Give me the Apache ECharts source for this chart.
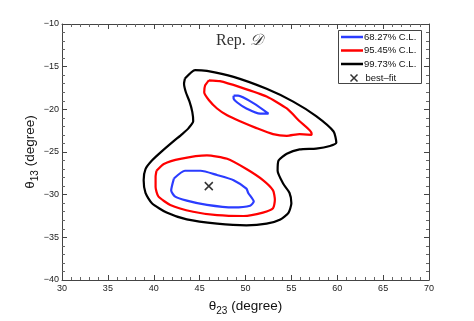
<!DOCTYPE html>
<html>
<head>
<meta charset="utf-8">
<script src="https://cdn.jsdelivr.net/npm/echarts@6/dist/echarts.min.js"></script>
<style>
  html, body { margin: 0; padding: 0; background: #fff; }
  #chart { width: 474px; height: 321px; }
</style>
</head>
<body>
<div id="chart"></div>
<script>
// contour outlines, [theta23, theta13]
const black99 = [[43.4,-16.4],[44.5,-15.4],[45.8,-15.5],[48.7,-16.2],[52.3,-17.6],[55.2,-19.1],[57.7,-20.8],[59.6,-22.6],[59.9,-23.9],[59.2,-24.3],[57.7,-24.6],[55.9,-24.7],[54.5,-25.2],[53.6,-26.0],[53.5,-27.2],[54.1,-28.7],[54.8,-29.8],[55.0,-31.0],[54.7,-32.1],[53.8,-32.9],[52.3,-33.4],[50.1,-33.6],[46.9,-33.4],[43.6,-32.9],[41.4,-32.1],[39.8,-31.0],[39.1,-29.8],[38.9,-28.3],[39.1,-27.0],[39.8,-26.0],[40.9,-24.9],[42.2,-23.7],[43.1,-22.9],[43.8,-22.2],[44.3,-21.4],[44.2,-20.3],[43.9,-19.1],[43.5,-18.0],[43.3,-17.0]]
const red95top = [[46.0,-16.6],[47.2,-16.7],[49.4,-17.4],[52.3,-18.5],[54.5,-19.9],[55.9,-21.4],[57.2,-22.8],[57.2,-23.0],[55.9,-22.9],[54.5,-23.1],[53.0,-22.9],[51.2,-22.2],[49.4,-21.4],[48.0,-20.7],[46.9,-19.9],[46.0,-18.9],[45.5,-18.0],[45.6,-17.2]]
const red95bottom = [[40.3,-27.2],[41.1,-26.4],[42.9,-25.8],[45.8,-25.4],[48.0,-25.8],[50.1,-27.0],[51.9,-28.3],[53.0,-29.5],[53.2,-30.6],[53.0,-31.6],[51.9,-32.1],[49.8,-32.5],[46.9,-32.4],[44.3,-32.0],[41.8,-31.2],[40.5,-30.2],[40.2,-29.1],[40.2,-27.9]]
const blue68bottom = [[42.2,-28.1],[43.4,-27.2],[45.1,-27.2],[46.9,-27.7],[48.7,-28.3],[50.1,-29.3],[50.3,-29.8],[50.9,-30.8],[50.5,-31.3],[48.7,-31.5],[45.8,-31.2],[43.6,-30.7],[42.3,-30.2],[41.9,-29.5]]
const blue68top = [[48.7,-18.4],[49.2,-18.4],[50.9,-19.3],[52.5,-20.5],[51.6,-20.5],[50.1,-19.9],[49.1,-19.2],[48.7,-18.7]]
const bestFit = [[46.0,-29.0]]

const levelNames = ['68.27% C.L.', '95.45% C.L.', '99.73% C.L.']
const bestName = 'best\u2013fit'

const xTicks = { min: 30, max: 70, interval: 5 }
const yTicks = { min: -40, max: -10, interval: 5 }

const close = arr => arr.concat([arr[0]])
const minus = v => String(v).replace('-', '\u2212')
const FONT = '"Liberation Sans", Arial, sans-serif'
const xPath = 'path://M0,0L10,10M10,0L0,10'

function contour(name, color, pts) {
  return {
    name: name, type: 'line', data: close(pts),
    symbol: 'none', smooth: 0.2, animation: false,
    lineStyle: { color: color, width: 2.2 },
    itemStyle: { color: color }
  }
}

function axisBase(extra) {
  return Object.assign({
    type: 'value',
    axisLine: { show: true, lineStyle: { color: '#444', width: 1 } },
    axisTick: { show: true, inside: true, length: 5, lineStyle: { color: '#444' } },
    minorTick: { show: true, splitNumber: 5, length: 3, lineStyle: { color: '#666' } },
    splitLine: { show: false },
    axisLabel: { color: '#222', fontSize: 9, fontFamily: FONT, formatter: minus }
  }, extra)
}

const nameRich = {
  t: { fontSize: 13.5, fontFamily: FONT, color: '#111' },
  s: { fontSize: 10, fontFamily: FONT, color: '#111', padding: [9, 0, 0, 0] }
}

const chart = echarts.init(document.getElementById('chart'))
chart.setOption({
  animation: false,
  grid: { left: 62, right: 45, top: 24, bottom: 36 },
  xAxis: [
    axisBase(Object.assign({}, xTicks, {
      position: 'bottom',
      axisLabel: { color: '#222', fontSize: 9, fontFamily: FONT, margin: 4 },
      name: '{t|\u03b8}{s|23}{t| (degree)}', nameLocation: 'middle', nameGap: 17,
      nameMoveOverlap: false,
      nameTextStyle: { rich: nameRich }
    })),
    axisBase(Object.assign({}, xTicks, { position: 'top', axisLabel: { show: false } }))
  ],
  yAxis: [
    axisBase(Object.assign({}, yTicks, {
      position: 'left',
      axisLabel: { color: '#222', fontSize: 9, fontFamily: FONT, formatter: minus, margin: 3 },
      name: '{t|\u03b8}{s|13}{t| (degree)}', nameLocation: 'middle', nameGap: 22,
      nameMoveOverlap: false,
      nameTextStyle: { rich: nameRich }
    })),
    axisBase(Object.assign({}, yTicks, { position: 'right', axisLabel: { show: false } }))
  ],
  title: {
    text: 'Rep. {d|\ud835\udc9f}', left: 211, top: 28,
    textStyle: { fontFamily: '"Liberation Serif", "DejaVu Serif", serif', fontWeight: 'normal', fontSize: 16, color: '#333',
      rich: { d: { fontFamily: '"DejaVu Serif", serif', fontStyle: 'italic', fontSize: 16, color: '#333' } } }
  },
  graphic: [{
    type: 'rect', z: 1, left: 338, top: 30,
    shape: { width: 83, height: 53 },
    style: { fill: '#fff', stroke: '#444', lineWidth: 1 }
  }],
  legend: [{
    orient: 'vertical', left: 341, top: 32, z: 5,
    padding: 0, itemGap: 3.5, itemWidth: 22, itemHeight: 2.5, icon: 'rect',
    textStyle: { fontSize: 9.5, fontFamily: FONT, color: '#111', padding: [1, 0, 0, -4] },
    data: levelNames
  }, {
    orient: 'vertical', left: 348, top: 72, z: 5,
    padding: 0, itemWidth: 7, itemHeight: 7,
    textStyle: { fontSize: 9.5, fontFamily: FONT, color: '#111', padding: [0, 0, 0, 3] },
    data: [{ name: bestName, icon: xPath, itemStyle: { color: 'none', borderColor: '#000', borderWidth: 1.5 } }]
  }],
  series: [
    contour(levelNames[0], '#2b3cff', blue68bottom),
    contour(levelNames[0], '#2b3cff', blue68top),
    contour(levelNames[1], '#ff0000', red95bottom),
    contour(levelNames[1], '#ff0000', red95top),
    contour(levelNames[2], '#000000', black99),
    {
      name: bestName, type: 'scatter', data: bestFit,
      symbol: xPath, symbolSize: 8,
      itemStyle: { color: 'none', borderColor: '#000', borderWidth: 1.5 }
    }
  ]
})
</script>
</body>
</html>
